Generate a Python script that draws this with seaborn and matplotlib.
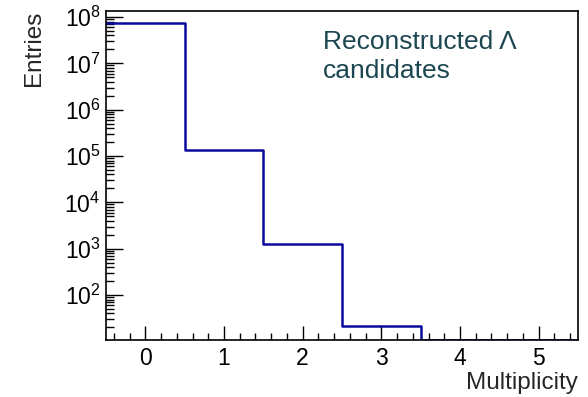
import numpy as np
import matplotlib
matplotlib.use("Agg")
import matplotlib.pyplot as plt
import seaborn as sns
from matplotlib.ticker import MultipleLocator, LogLocator, NullFormatter

# Data
multiplicity = [0, 1, 2, 3, 4, 5]
entries = [7.4e7, 1.35e5, 1.28e3, 21, 0, 0]
bin_edges = [-0.5, 0.5, 1.5, 2.5, 3.5, 4.5, 5.5]
x_ticks = [0, 1, 2, 3, 4, 5]
y_ticks = [1e2, 1e3, 1e4, 1e5, 1e6, 1e7, 1e8]
y_min, y_max = 10.7, 1.35e8

sns.set_style("white")
plt.rcParams['font.family'] = ['Liberation Sans', 'DejaVu Sans']
plt.rcParams['mathtext.fontset'] = 'custom'
plt.rcParams['mathtext.rm'] = 'Liberation Sans'

fig = plt.figure(figsize=(5.88, 3.97), dpi=100)
ax = fig.add_axes([106/588, 1-340/397, (578-106)/588, (340-11)/397])

# ROOT draws empty bins at the frame bottom
shown = np.maximum(np.array(entries, dtype=float), y_min)
sns.histplot(x=multiplicity, weights=shown, bins=bin_edges, element="step",
             fill=False, color="#0a0a9c", linewidth=1.8, ax=ax, log_scale=(False, True))

ax.set_xlim(-0.5, 5.5)
ax.set_ylim(y_min, y_max)
ax.set_xticks(x_ticks)
ax.xaxis.set_minor_locator(MultipleLocator(0.2))
ax.yaxis.set_minor_locator(LogLocator(base=10, subs=np.arange(2, 10), numticks=20))
ax.yaxis.set_minor_formatter(NullFormatter())
ax.set_yticks(y_ticks)
ax.set_yticklabels([f"$10^{{{int(np.log10(v))}}}$" for v in y_ticks])

ax.tick_params(axis='both', which='both', direction='in', bottom=True, left=True,
               top=False, right=False, labelsize=16.5, colors='black')
ax.tick_params(axis='x', which='major', length=10, width=1, pad=5)
ax.tick_params(axis='x', which='minor', length=5, width=1)
ax.tick_params(axis='y', which='major', length=12, width=1, pad=4)
ax.tick_params(axis='y', which='minor', length=6, width=1)
for s in ax.spines.values():
    s.set_color('black')
    s.set_linewidth(1.2)

ax.set_xlabel("Multiplicity", fontsize=17.5, loc='right')
ax.set_ylabel("Entries", fontsize=17.5, loc='top')
ax.xaxis.set_label_coords(578/588, 1-372/397, transform=fig.transFigure)
ax.yaxis.set_label_coords(45/588, 1-11/397, transform=fig.transFigure)

ax.text(323/588, 1-78/397, "Reconstructed Λ\ncandidates", transform=fig.transFigure,
        fontsize=19, color="#1c4650", ha='left', va='baseline', linespacing=1.25)

fig.savefig("out.png", dpi=100)
